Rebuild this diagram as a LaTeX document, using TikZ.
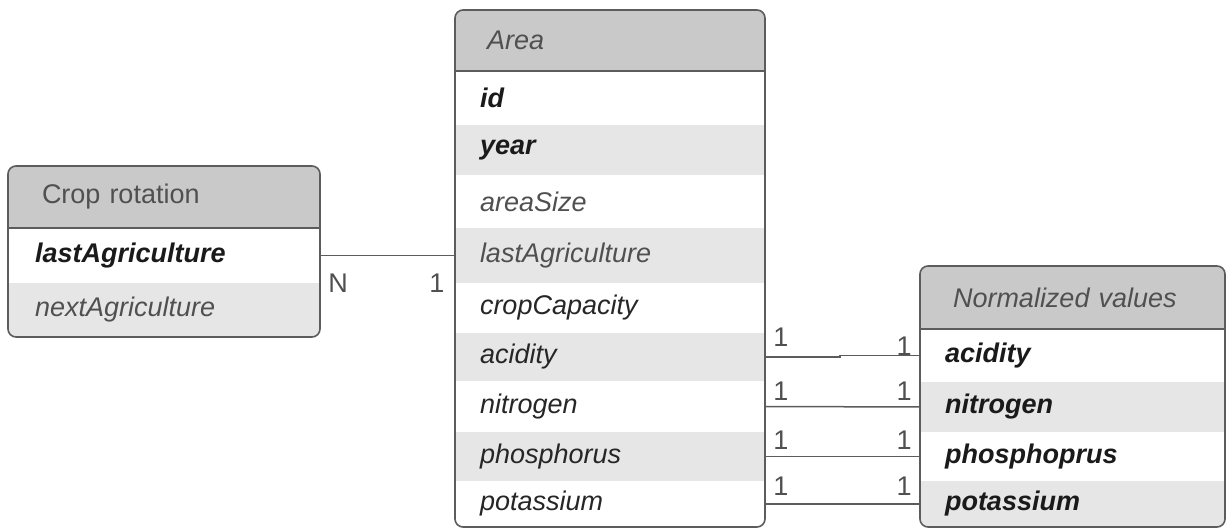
\documentclass[tikz,border=0pt]{standalone}
\usepackage{fontspec}
\setmainfont{Liberation Sans}
\usetikzlibrary{calc}
\definecolor{hdr}{HTML}{C9C9C9}
\definecolor{alt}{HTML}{E6E6E6}
\definecolor{bord}{HTML}{5C5C5C}
\definecolor{keytxt}{HTML}{1A1A1A}
\definecolor{attrtxt}{HTML}{262626}
\definecolor{ltxt}{HTML}{505050}
\newcommand\fsz{\fontsize{13.5}{16}\selectfont}
\tikzset{
  cell/.style={anchor=north west, inner ysep=0pt, align=left, outer sep=0pt},
  keyf/.style={font=\fsz\bfseries\itshape, text=keytxt},
  attrf/.style={font=\fsz\itshape, text=attrtxt},
  lattrf/.style={font=\fsz\itshape, text=ltxt},
  hdrf/.style={font=\fsz, text=ltxt},
  hdri/.style={font=\fsz\itshape, text=ltxt},
  areaw/.style={text width=130pt, inner xsep=12.5pt},
  areah/.style={text width=123pt, inner xsep=16pt},
  crw/.style={text width=129pt, inner xsep=13.5pt},
  crh/.style={text width=122pt, inner xsep=17pt},
  nvw/.style={text width=127.5pt, inner xsep=12.5pt},
  nvh/.style={text width=119.5pt, inner xsep=16.5pt},
  border/.style={draw=bord, line width=0.8pt},
  conn/.style={draw=bord, line width=0.75pt},
  card/.style={font=\fsz, text=ltxt, inner sep=0pt}
}
\begin{document}
\begin{tikzpicture}[x=0.5pt,y=-0.5pt]
\useasboundingbox[fill=white] (0,0) rectangle (1227,528);

% ---------------- Crop rotation ----------------
\begin{scope}
\clip[rounded corners=4pt] (8,166) rectangle (320,337);
\node[cell, crh, hdrf, fill=hdr, minimum height=31pt] (cr) at (8,166) {Crop rotation};
\node[cell, crw, keyf, fill=white, minimum height=27.5pt] (cr-last) at (cr.south west) {lastAgriculture};
\node[cell, crw, attrf, text=ltxt, fill=alt, minimum height=27pt] (cr-next) at (cr-last.south west) {nextAgriculture};
\end{scope}
\draw[border, rounded corners=4pt] (8,166) rectangle (320,337);
\draw[border] (cr.south west) -- (cr.south east);

% ---------------- Area ----------------
\begin{scope}
\clip[rounded corners=4pt] (455,10) rectangle (765,527);
\node[cell, areah, hdri, fill=hdr, minimum height=30.5pt] (area) at (455,10) {Area};
\node[cell, areaw, keyf, fill=white, minimum height=27pt] (a-id) at (area.south west) {id};
\node[cell, areaw, keyf, fill=alt, minimum height=25pt] (a-year) at (a-id.south west) {year};
\node[cell, areaw, lattrf, fill=white, minimum height=26.5pt] (a-size) at (a-year.south west) {areaSize};
\node[cell, areaw, lattrf, fill=alt, minimum height=27.5pt] (a-last) at (a-size.south west) {lastAgriculture};
\node[cell, areaw, attrf, fill=white, minimum height=25pt] (a-crop) at (a-last.south west) {cropCapacity};
\node[cell, areaw, attrf, fill=alt, minimum height=24pt] (a-acid) at (a-crop.south west) {acidity};
\node[cell, areaw, attrf, fill=white, minimum height=25.5pt] (a-nitro) at (a-acid.south west) {nitrogen};
\node[cell, areaw, attrf, fill=alt, minimum height=24.5pt] (a-phos) at (a-nitro.south west) {phosphorus};
\node[cell, areaw, attrf, fill=white, minimum height=23pt] (a-pot) at (a-phos.south west) {potassium};
\end{scope}
\draw[border, rounded corners=4pt] (455,10) rectangle (765,527);
\draw[border] (area.south west) -- (area.south east);

% ---------------- Normalized values ----------------
\begin{scope}
\clip[rounded corners=4pt] (920,266) rectangle (1225,527);
\node[cell, nvh, hdri, fill=hdr, minimum height=31.5pt] (nv) at (920,266) {Normalized values};
\node[cell, nvw, keyf, fill=white, minimum height=26.5pt] (n-acid) at (nv.south west) {acidity};
\node[cell, nvw, keyf, fill=alt, minimum height=25pt] (n-nitro) at (n-acid.south west) {nitrogen};
\node[cell, nvw, keyf, fill=white, minimum height=24.5pt] (n-phos) at (n-nitro.south west) {phosphoprus};
\node[cell, nvw, keyf, fill=alt, minimum height=23pt] (n-pot) at (n-phos.south west) {potassium};
\end{scope}
\draw[border, rounded corners=4pt] (920,266) rectangle (1225,527);
\draw[border] (nv.south west) -- (nv.south east);

% ---------------- Connectors ----------------
\draw[conn] (cr-last.east) -- (a-last.west);
\draw[conn] (a-acid.east) -- ++(75,0) |- (n-acid.west);
\draw[conn] (a-nitro.east) -- (n-nitro.west);
\draw[conn] (a-phos.east) -- (n-phos.west);
\draw[conn] (a-pot.east) -- (n-pot.west);

% ---------------- Cardinalities ----------------
\node[card] (c-n) at (338,283) {N};
\node[card] (c-1a) at (437,283) {1};
\node[card] (c-acl) at (781,337) {1};
\node[card] (c-acr) at (904,346) {1};
\node[card] (c-nil) at (781,391) {1};
\node[card] (c-nir) at (904,391) {1};
\node[card] (c-phl) at (781,440) {1};
\node[card] (c-phr) at (904,440) {1};
\node[card] (c-pol) at (781,486) {1};
\node[card] (c-por) at (904,486) {1};
\end{tikzpicture}
\end{document}
